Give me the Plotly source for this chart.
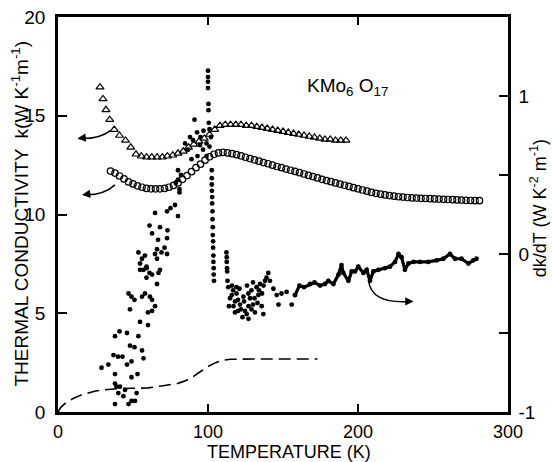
import plotly.graph_objects as go

# ---------------- data ----------------
# k(T) triangles (left axis, W K^-1 m^-1)
tri_T = [28, 30, 32, 34.5, 37.5, 41, 45, 48.5, 52, 55.5, 59, 62.5, 66, 69.5, 73, 76.5, 80,
         83.5, 87, 90.5, 94, 97.5, 101, 104.5, 108, 111.5, 115, 118.5, 122, 125.5, 129, 132.5,
         136, 139.5, 143, 146.5, 150, 153.5, 157, 160.5, 164, 167.5, 171, 174.5, 178, 181.5,
         185, 188.5, 192]
tri_k = [16.45, 15.85, 15.3, 14.8, 14.3, 14.0, 13.75, 13.4, 13.05, 12.95, 12.9, 12.9, 12.9,
         12.9, 12.95, 13.0, 13.1, 13.2, 13.4, 13.55, 13.7, 13.85, 14.05, 14.3, 14.5, 14.55,
         14.55, 14.55, 14.55, 14.5, 14.5, 14.45, 14.4, 14.35, 14.3, 14.25, 14.2, 14.15, 14.1,
         14.05, 14.0, 13.95, 13.9, 13.85, 13.8, 13.8, 13.75, 13.75, 13.75]

# k(T) circles (left axis)
cir_T = [35, 38, 41, 44, 47, 50, 53, 56, 59, 62, 65, 68, 71, 74, 77, 80, 83, 86, 89, 92, 95,
         98, 101, 104, 107, 110, 113, 116, 119, 122, 125, 128, 131, 134, 137, 140, 143, 146,
         149, 152, 155, 158, 161, 164, 167, 170, 173, 176, 179, 182, 185, 188, 191, 194, 197,
         200, 203, 206, 209, 212, 215, 218, 221, 224, 227, 230, 233, 236, 239, 242, 245, 248,
         251, 254, 257, 260, 263, 266, 269, 272, 275, 278, 281]
cir_k = [12.2, 12.1, 11.95, 11.8, 11.65, 11.55, 11.45, 11.38, 11.32, 11.3, 11.3, 11.3, 11.32,
         11.38, 11.47, 11.6, 11.78, 11.97, 12.17, 12.37, 12.55, 12.75, 12.92, 13.05, 13.12,
         13.15, 13.12, 13.08, 13.03, 12.97, 12.9, 12.83, 12.77, 12.7, 12.63, 12.57, 12.5,
         12.43, 12.37, 12.3, 12.24, 12.18, 12.12, 12.05, 11.98, 11.92, 11.85, 11.78, 11.72,
         11.66, 11.6, 11.54, 11.48, 11.42, 11.36, 11.3, 11.24, 11.18, 11.12, 11.07, 11.03,
         10.99, 10.96, 10.93, 10.9, 10.88, 10.86, 10.84, 10.83, 10.82, 10.81, 10.8, 10.79,
         10.78, 10.77, 10.76, 10.75, 10.74, 10.73, 10.72, 10.71, 10.7, 10.7]

# dashed curve (left axis)
dash_T = [0, 2, 5, 10, 15, 20, 25, 30, 35, 40, 50, 60, 70, 80, 85, 90, 95, 100, 105, 110,
          115, 120, 130, 145, 160, 173]
dash_k = [0, 0.25, 0.45, 0.68, 0.85, 0.97, 1.06, 1.12, 1.16, 1.18, 1.2, 1.22, 1.33, 1.45,
          1.58, 1.78, 2.05, 2.3, 2.5, 2.62, 2.67, 2.68, 2.68, 2.68, 2.68, 2.68]

# dk/dT scattered points (right axis, W K^-2 m^-1): (T, dk/dT)
dkdt_points = [
    (29, -0.72), (33.6, -0.70), (37, -0.64), (38, -0.76), (40, -0.65), (43, -0.65), (46, -0.70), (49, -0.68),
    (38, -0.52), (41, -0.49), (46, -0.50), (48, -0.58), (51, -0.59), (56, -0.61), (53.6, -0.52), (57, -0.66),
    (54.7, -0.43), (60, -0.45), (62.7, -0.36), (64.7, -0.33), (60, -0.37),
    (47, -0.25), (49, -0.27), (48, -0.35), (51, -0.29), (56, -0.27), (58, -0.25), (61.3, -0.27), (62.7, -0.29),
    (54.7, -0.06), (57, -0.10), (59, -0.09), (62.7, -0.13), (66, -0.19), (67, -0.12), (58, -0.01), (66, -0.03),
    (69, 0.01), (53.6, 0.01),
    (38, -0.82), (41.3, -0.84), (44.7, -0.86), (40.2, -0.88), (43.6, -0.90), (38, -0.95), (47, -0.95),
    (51.3, -0.93), (49, -0.93), (52.4, -0.88), (39, -0.84), (49, -0.78), (53, -0.76),
    (64.7, 0.26), (72.7, 0.27), (78, 0.31), (80, 0.24), (61, 0.18), (68, 0.17), (73, 0.15), (62.7, 0.13),
    (66.7, 0.09), (72.7, 0.10), (66, 0.03), (71, 0.04), (56, -0.03), (59, -0.08), (61, -0.12), (59, -0.15),
    (54.7, -0.10), (75, 0.29), (64.7, 0.0), (72.7, 0.0), (68, -0.1),
    (80, 0.53), (81, 0.41), (80, 0.47), (81, 0.39), (78.5, 0.45), (82, 0.50), (84.7, 0.70), (88, 0.74),
    (91, 0.85), (92.7, 0.77), (94.7, 0.69), (96.7, 0.66), (99, 0.62), (90, 0.72), (86.7, 0.66), (89, 0.60),
    (99, 0.70), (101, 0.68), (93, 0.62), (97, 0.78), (95, 0.74),
    (100, 1.16), (100, 1.12), (100, 1.09), (100, 1.05), (100.3, 0.95), (100.3, 0.91), (100.5, 0.83),
    (101, 0.79), (102, 0.74),
    (102.5, 0.53), (102.5, 0.48), (102.5, 0.44), (102.6, 0.40), (102.8, 0.36), (102.8, 0.32), (103, 0.27),
    (103, 0.22), (103.2, 0.17), (103.2, 0.12), (103.4, 0.08), (103.4, 0.04), (103.6, -0.01), (103.6, -0.05),
    (103.8, -0.09), (103.8, -0.13), (104, -0.17),
    (112.3, 0.01), (112.5, -0.02), (112.5, -0.05), (112.7, -0.09), (112.8, -0.11), (113, -0.17),
    (113.5, -0.21), (115.8, -0.26), (116.7, -0.23), (114.7, -0.28), (119, -0.25), (120, -0.29),
    (121.3, -0.32), (123.6, -0.27), (124.7, -0.36), (125.8, -0.38), (126.9, -0.25), (129, -0.23),
    (130, -0.32), (131.3, -0.37), (132.4, -0.21), (133.6, -0.26), (134.7, -0.19), (135.8, -0.33),
    (136.9, -0.38), (138, -0.17), (140.2, -0.12), (141.3, -0.17), (143.6, -0.22), (145.8, -0.26),
    (147, -0.32), (149, -0.25), (152.4, -0.24), (155.8, -0.32), (158, -0.26),
    (117, -0.33), (118, -0.30), (121, -0.22), (122, -0.35), (124, -0.30), (127, -0.33), (128, -0.28),
    (129, -0.35), (131, -0.28), (133, -0.31), (134, -0.23), (136, -0.25), (137, -0.20), (139, -0.15),
    (116, -0.20), (119, -0.21), (126, -0.20), (130, -0.18), (114, -0.33), (118, -0.37), (123, -0.40),
    (127, -0.41), (120, -0.36),
]

# dk/dT densely measured part above ~160 K (right axis)
dkdt_T = [158, 161, 164, 168, 171, 174.7, 178, 180.2, 183.6, 187, 189, 190.2, 193.6, 195.8, 198,
          200.2, 203.6, 205.8, 208, 210.2, 213.6, 218, 221.3, 224.7, 227, 229, 231.3, 233.6, 237,
          241.3, 246.9, 252.4, 256.9, 261.3, 264.7, 269, 273.6, 276.9, 279]
dkdt_V = [-0.26, -0.20, -0.21, -0.19, -0.18, -0.20, -0.19, -0.17, -0.19, -0.13, -0.07, -0.12,
          -0.17, -0.11, -0.11, -0.08, -0.12, -0.10, -0.17, -0.11, -0.10, -0.09, -0.08, -0.05,
          0.00, -0.02, -0.10, -0.06, -0.05, -0.05, -0.05, -0.04, -0.03, 0.00, -0.03, -0.03,
          -0.06, -0.04, -0.03]

x_ticks = [0, 100, 200, 300]
yl_ticks = [0, 5, 10, 15, 20]
yr_ticks = [-1, -0.5, 0, 0.5, 1]
yr_text = ["-1", " ", "0", " ", "1"]

FONT = "Liberation Sans, Arial, sans-serif"
BLACK = "#000000"

fig = go.Figure()

fig.add_trace(go.Scatter(x=dash_T, y=dash_k, mode="lines", yaxis="y",
                         line=dict(color=BLACK, width=1.6, dash="12px,6px"),
                         showlegend=False, hoverinfo="skip"))
fig.add_trace(go.Scatter(x=tri_T, y=tri_k, mode="markers", yaxis="y",
                         marker=dict(symbol="triangle-up-open", size=7, color=BLACK,
                                     line=dict(width=1.2, color=BLACK)),
                         showlegend=False))
fig.add_trace(go.Scatter(x=cir_T, y=cir_k, mode="markers", yaxis="y",
                         marker=dict(symbol="circle-open", size=6.5, color=BLACK,
                                     line=dict(width=1.2, color=BLACK)),
                         showlegend=False))
fig.add_trace(go.Scatter(x=[p[0] for p in dkdt_points], y=[p[1] for p in dkdt_points],
                         mode="markers", yaxis="y2",
                         marker=dict(symbol="circle", size=4.8, color=BLACK),
                         showlegend=False))
fig.add_trace(go.Scatter(x=dkdt_T, y=dkdt_V, mode="lines+markers", yaxis="y2",
                         line=dict(color=BLACK, width=3.2),
                         marker=dict(symbol="circle", size=4.8, color=BLACK),
                         showlegend=False))

# curved arrows
shapes = [
    dict(type="path", xref="x", yref="y", path="M 35,14.25 Q 27,13.8 14,13.85",
         line=dict(color=BLACK, width=1.5)),
    dict(type="path", xref="x", yref="y", path="M 38,11.5 Q 30,10.95 17,11.0",
         line=dict(color=BLACK, width=1.5)),
    dict(type="path", xref="x", yref="y2",
         path="M 207,-0.16 Q 208,-0.32 235,-0.30", line=dict(color=BLACK, width=1.5)),
]

annotations = [
    dict(x=13, y=13.85, xref="x", yref="y", ax=10, ay=-1, showarrow=True, text="",
         arrowhead=2, arrowsize=1.1, arrowwidth=1.5, arrowcolor=BLACK),
    dict(x=16, y=11.0, xref="x", yref="y", ax=10, ay=-1, showarrow=True, text="",
         arrowhead=2, arrowsize=1.1, arrowwidth=1.5, arrowcolor=BLACK),
    dict(x=237, y=-0.30, xref="x", yref="y2", ax=-10, ay=0, showarrow=True, text="",
         arrowhead=2, arrowsize=1.1, arrowwidth=1.5, arrowcolor=BLACK),
    dict(x=0.738, y=0.858, xref="paper", yref="paper", showarrow=False,
         text="KMo<sub>6</sub> O<sub>17</sub>", font=dict(family=FONT, size=19, color=BLACK)),
    dict(x=-0.084, y=0.503, xref="paper", yref="paper", showarrow=False, textangle=-90,
         xanchor="center", yanchor="middle",
         text="THERMAL CONDUCTIVITY  k(W K<sup>-1</sup>m<sup>-1</sup>)",
         font=dict(family=FONT, size=19, color=BLACK)),
    dict(x=1.068, y=0.515, xref="paper", yref="paper", showarrow=False, textangle=-90,
         xanchor="center", yanchor="middle",
         text="dk/dT (W K<sup>-2</sup> m<sup>-1</sup>)",
         font=dict(family=FONT, size=18, color=BLACK)),
    dict(x=0.513, y=-0.1, xref="paper", yref="paper", showarrow=False,
         xanchor="center", yanchor="middle", text="TEMPERATURE (K)",
         font=dict(family=FONT, size=18, color=BLACK)),
]

fig.update_layout(
    width=553, height=462,
    margin=dict(l=58, r=45, t=17, b=50, autoexpand=False),
    paper_bgcolor="white", plot_bgcolor="white",
    font=dict(family=FONT, size=18, color=BLACK),
    shapes=shapes, annotations=annotations,
    xaxis=dict(range=[0, 300], tickvals=x_ticks, ticks="inside", ticklen=8, tickwidth=2,
               tickcolor=BLACK, showline=True, linewidth=2.5, linecolor=BLACK, mirror="ticks",
               showgrid=False, zeroline=False, ticklabelstandoff=2,
               tickfont=dict(family=FONT, size=18, color=BLACK)),
    yaxis=dict(range=[0, 20], tickvals=yl_ticks, ticks="inside", ticklen=9, tickwidth=2,
               tickcolor=BLACK, showline=True, linewidth=2.5, linecolor=BLACK,
               showgrid=False, zeroline=False, ticklabelstandoff=6,
               tickfont=dict(family=FONT, size=19, color=BLACK)),
    yaxis2=dict(range=[-1, 1.5], tickvals=yr_ticks, ticktext=yr_text, overlaying="y",
                side="right", ticks="inside", ticklen=9, tickwidth=2, tickcolor=BLACK,
                showline=True, linewidth=2.5, linecolor=BLACK, showgrid=False,
                zeroline=False, ticklabelstandoff=4,
                tickfont=dict(family=FONT, size=19, color=BLACK)),
)

fig.write_html("out.html", config={"displayModeBar": False},
               post_script="document.body.style.margin='0';document.body.style.padding='0';")
